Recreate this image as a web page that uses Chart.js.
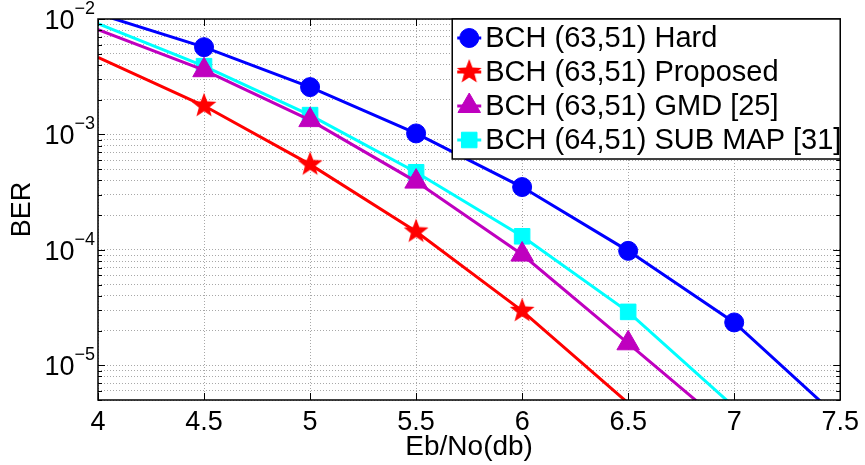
<!DOCTYPE html>
<html>
<head>
<meta charset="utf-8">
<title>BER vs Eb/No</title>
<script src="https://cdn.jsdelivr.net/npm/chart.js@4.4.0/dist/chart.umd.min.js"></script>
<style>
  html, body { margin: 0; padding: 0; background: #fff; }
</style>
</head>
<body>
<canvas id="ber-chart" width="865" height="465"></canvas>
<script>
// Eb/No values (dB) used for every curve
const ebNo = [4, 4.5, 5, 5.5, 6, 6.5, 7, 7.5];

// BER values (points past the axis limits only steer the line)
const berHard     = [1.11e-2, 5.7e-3, 2.57e-3, 1.02e-3, 3.5e-4, 9.8e-5, 2.35e-5, 3.4e-6];
const berProposed = [4.66e-3, 1.77e-3, 5.5e-4, 1.44e-4, 2.96e-5, 4.7e-6];
const berGmd      = [8.1e-3, 3.6e-3, 1.33e-3, 3.9e-4, 9.1e-5, 1.55e-5, 2.6e-6];
const berSubMap   = [9.1e-3, 3.9e-3, 1.47e-3, 4.7e-4, 1.31e-4, 2.9e-5, 4.35e-6];

const seriesLabels = ['BCH (63,51) Hard', 'BCH (63,51) Proposed', 'BCH (63,51) GMD [25]', 'BCH (64,51) SUB MAP [31]'];

// axis ticks
const xTicks = [4, 4.5, 5, 5.5, 6, 6.5, 7, 7.5];
const yLabelExps = [-2, -3, -4, -5];
const xMin = 4;
const xMax = 7.5;
const yMin = 5e-6;
const yMax = 1e-2;

const FONT = '"Liberation Sans", Arial, Helvetica, sans-serif';

// y grid: every 1..9 x decade between the limits
function logGridValues() {
    const vals = [];
    for (let d = -6; d <= -2; d++) {
        for (let m = 1; m <= 9; m++) {
            const v = parseFloat(m + 'e' + d);
            if (v >= yMin * 0.999 && v <= yMax * 1.001) vals.push(v);
        }
    }
    return vals;
}

// filled five point star, Chart.js only has the line one
function makeStar(color, R) {
    const c = document.createElement('canvas');
    const s = Math.ceil(2 * R + 2);
    c.width = s;
    c.height = s;
    const g = c.getContext('2d');
    g.fillStyle = color;
    g.beginPath();
    for (let i = 0; i < 10; i++) {
        const rr = i % 2 ? R * 0.42 : R;
        const a = -Math.PI / 2 + i * Math.PI / 5;
        g.lineTo(s / 2 + rr * Math.cos(a), s / 2 + rr * Math.sin(a));
    }
    g.closePath();
    g.fill();
    return c;
}

function makeSet(label, values, color, style, r) {
    return {
        label: label,
        data: values.map((v, i) => ({ x: ebNo[i], y: v })),
        borderColor: color,
        backgroundColor: color,
        borderWidth: 3,
        pointStyle: style,
        markerRadius: r,
        // no markers on the axis limits or outside them, like the original
        pointRadius: ctx => {
            const p = ctx.raw;
            if (!p) return 0;
            if (p.x <= xMin || p.x >= xMax) return 0;
            return (p.y < yMin || p.y > yMax) ? 0 : r;
        },
        pointBorderWidth: 1,
        pointBorderColor: color,
        pointBackgroundColor: color,
        tension: 0,
        fill: false
    };
}

const starStyle = makeStar('#ff0000', 13);

const datasets = [
    makeSet(seriesLabels[0], berHard, '#0000ff', 'circle', 9.5),
    makeSet(seriesLabels[1], berProposed, '#ff0000', starStyle, 13),
    makeSet(seriesLabels[2], berGmd, '#bf00bf', 'triangle', 13),
    makeSet(seriesLabels[3], berSubMap, '#00ffff', 'rect', 11)
];

// box around the axes and inward ticks
const framePlugin = {
    id: 'frame',
    afterDatasetsDraw(chart) {
        const { ctx, chartArea: a, scales: { x, y } } = chart;
        ctx.save();
        ctx.strokeStyle = '#000';
        ctx.lineWidth = 1;
        ctx.beginPath();
        xTicks.forEach(v => {
            const px = Math.round(x.getPixelForValue(v)) + 0.5;
            ctx.moveTo(px, a.bottom); ctx.lineTo(px, a.bottom - 7);
            ctx.moveTo(px, a.top); ctx.lineTo(px, a.top + 7);
        });
        y.ticks.forEach(t => {
            const py = Math.round(y.getPixelForValue(t.value)) + 0.5;
            const lg = Math.log10(t.value);
            const len = Math.abs(lg - Math.round(lg)) < 1e-6 ? 7 : 4;
            ctx.moveTo(a.left, py); ctx.lineTo(a.left + len, py);
            ctx.moveTo(a.right, py); ctx.lineTo(a.right - len, py);
        });
        ctx.stroke();
        ctx.lineWidth = 1.5;
        ctx.strokeRect(a.left, a.top, a.right - a.left, a.bottom - a.top);
        ctx.restore();
    }
};

// 10^n labels with superscripts
const yLabelPlugin = {
    id: 'yLabels',
    afterDraw(chart) {
        const { ctx, chartArea: a, scales: { y } } = chart;
        ctx.save();
        ctx.fillStyle = '#000';
        ctx.textBaseline = 'alphabetic';
        yLabelExps.forEach(e => {
            const py = y.getPixelForValue(Math.pow(10, e));
            const expText = '\u2212' + Math.abs(e);
            ctx.font = '18px ' + FONT;
            const ew = ctx.measureText(expText).width;
            const right = a.left - 3;
            ctx.textAlign = 'right';
            ctx.fillText(expText, right, py - 5);
            ctx.font = '27px ' + FONT;
            ctx.fillText('10', right - ew, py + 10);
        });
        ctx.restore();
    }
};

// legend box in the top right corner of the axes
const legendPlugin = {
    id: 'boxLegend',
    afterDraw(chart) {
        const { ctx, chartArea: a } = chart;
        const boxW = 388, boxH = 140;
        const bx = a.right - boxW, by = a.top;
        ctx.save();
        ctx.fillStyle = '#fff';
        ctx.fillRect(bx, by, boxW, boxH);
        ctx.strokeStyle = '#000';
        ctx.lineWidth = 1.5;
        ctx.strokeRect(bx, by, boxW, boxH);
        chart.data.datasets.forEach((ds, i) => {
            const cy = by + 19 + i * 34;
            const mx = bx + 17;
            ctx.strokeStyle = ds.borderColor;
            ctx.lineWidth = 3;
            ctx.beginPath();
            ctx.moveTo(mx - 12, cy);
            ctx.lineTo(mx + 12, cy);
            ctx.stroke();
            ctx.fillStyle = ds.borderColor;
            ctx.lineWidth = 1;
            Chart.helpers.drawPoint(ctx, { pointStyle: ds.pointStyle, radius: ds.markerRadius, borderWidth: 1, rotation: 0 }, mx, cy);
            ctx.fillStyle = '#000';
            ctx.font = '29px ' + FONT;
            ctx.textAlign = 'left';
            ctx.textBaseline = 'middle';
            ctx.fillText(ds.label, bx + 33, cy + 1);
        });
        ctx.restore();
    }
};

const gridValues = logGridValues();

new Chart(document.getElementById('ber-chart'), {
    type: 'line',
    data: { datasets: datasets },
    options: {
        responsive: false,
        animation: false,
        events: [],
        layout: { padding: { top: 19, right: 22, left: 0, bottom: 0 } },
        plugins: {
            legend: { display: false },
            tooltip: { enabled: false }
        },
        scales: {
            x: {
                type: 'linear',
                min: xMin,
                max: xMax,
                afterBuildTicks: scale => { scale.ticks = xTicks.map(v => ({ value: v })); },
                afterFit: scale => { scale.height = 65; },
                ticks: {
                    color: '#000',
                    font: { family: FONT, size: 27 },
                    padding: 6,
                    maxRotation: 0,
                    callback: v => String(v)
                },
                grid: { color: '#a8a8a8', lineWidth: 1, drawTicks: false },
                border: { display: false, dash: [1, 2] },
                title: {
                    display: true,
                    text: 'Eb/No(db)',
                    color: '#000',
                    font: { family: FONT, size: 28 },
                    padding: { top: 0, bottom: 1 }
                }
            },
            y: {
                type: 'logarithmic',
                min: yMin,
                max: yMax,
                afterBuildTicks: scale => { scale.ticks = gridValues.map(v => ({ value: v })); },
                afterFit: scale => { scale.width = 98; },
                ticks: { display: false },
                grid: { color: '#a8a8a8', lineWidth: 1, drawTicks: false },
                border: { display: false, dash: [1, 2] },
                title: {
                    display: true,
                    text: 'BER',
                    color: '#000',
                    font: { family: FONT, size: 27 },
                    padding: { top: 6, bottom: 0 }
                }
            }
        }
    },
    plugins: [framePlugin, yLabelPlugin, legendPlugin]
});
</script>
</body>
</html>
